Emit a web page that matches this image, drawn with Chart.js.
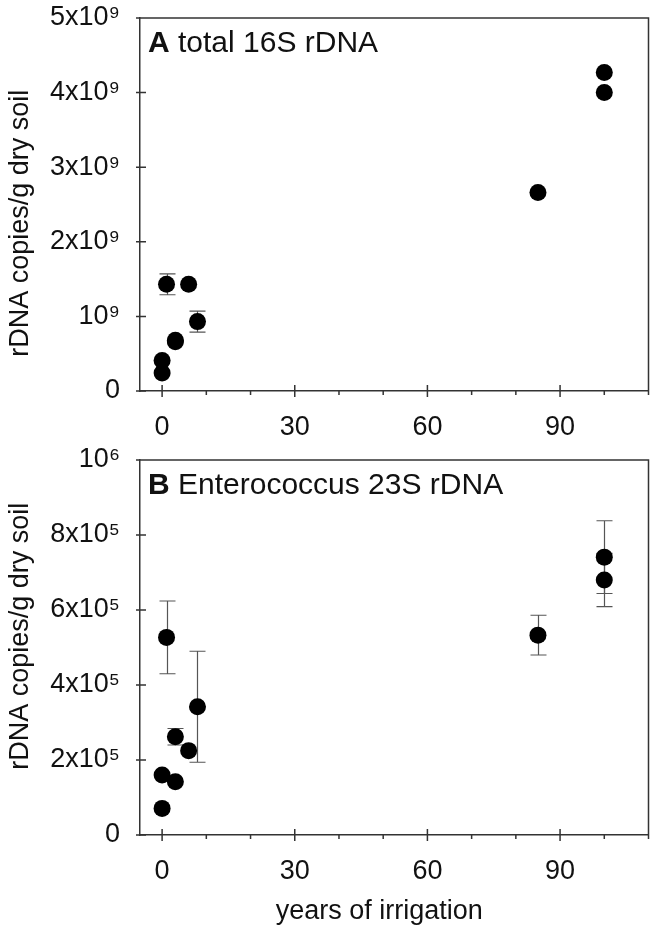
<!DOCTYPE html>
<html lang="en">
<head>
    <meta charset="UTF-8">
    <title>rDNA copies vs years of irrigation</title>
    <script src="https://cdn.jsdelivr.net/npm/chart.js"></script>
    <style>
        body {
            margin: 0;
            background-color: #fff;
        }

        #wrap {
            position: relative;
            width: 657px;
            height: 934px;
        }

        canvas {
            position: absolute;
            left: 0;
        }

        #chartA { top: 0; }
        #chartB { top: 440px; }
    </style>
</head>
<body>
    <div id="wrap">
        <canvas id="chartA" width="657" height="440"></canvas>
        <canvas id="chartB" width="657" height="494"></canvas>
    </div>

    <script>
        // years of irrigation (same sites in both panels)
        const years = [0, 0, 1, 3, 3, 6, 8, 85, 100, 100];

        // panel A: total 16S rDNA copies / g dry soil
        const total16S = [0.24e9, 0.41e9, 1.43e9, 0.66e9, 0.68e9, 1.43e9, 0.93e9, 2.66e9, 4.0e9, 4.27e9];
        const total16SErr = [0, 0, 0.14e9, 0, 0, 0, 0.14e9, 0, 0, 0];

        // panel B: Enterococcus 23S rDNA copies / g dry soil
        const entero23S = [0.71e5, 1.6e5, 5.27e5, 1.42e5, 2.62e5, 2.25e5, 3.42e5, 5.33e5, 6.8e5, 7.41e5];
        const entero23SErr = [0, 0, 0.97e5, 0, 0.22e5, 0, 1.48e5, 0.53e5, 0.71e5, 0.97e5];

        // axes
        const xTicks = [0, 10, 20, 30, 40, 50, 60, 70, 80, 90, 100, 110];
        const xMajor = [0, 30, 60, 90];
        const yTicksA = [0, 1e9, 2e9, 3e9, 4e9, 5e9];
        const yLabelsA = ['0', '10⁹', '2x10⁹', '3x10⁹', '4x10⁹', '5x10⁹'];
        const yTicksB = [0, 2e5, 4e5, 6e5, 8e5, 1e6];
        const yLabelsB = ['0', '2x10⁵', '4x10⁵', '6x10⁵', '8x10⁵', '10⁶'];

        const FONT = "'Liberation Sans', Arial, sans-serif";
        const AXIS = '#333';

        // ticks crossing the axes, top/right frame, error bars and panel label
        const panelDecor = {
            id: 'panelDecor',
            beforeDatasetsDraw(chart, args, opts) {
                const ctx = chart.ctx;
                const xs = chart.scales.x;
                const ys = chart.scales.y;
                const data = chart.data.datasets[0].data;
                ctx.save();
                ctx.strokeStyle = '#555';
                ctx.lineWidth = 1.2;
                opts.err.forEach((e, i) => {
                    if (!e) return;
                    const px = Math.round(xs.getPixelForValue(data[i].x)) + 0.5;
                    const top = ys.getPixelForValue(data[i].y + e);
                    const bot = ys.getPixelForValue(data[i].y - e);
                    ctx.beginPath();
                    ctx.moveTo(px, top); ctx.lineTo(px, bot);
                    ctx.moveTo(px - 8, top); ctx.lineTo(px + 8, top);
                    ctx.moveTo(px - 8, bot); ctx.lineTo(px + 8, bot);
                    ctx.stroke();
                });
                ctx.restore();
            },
            afterDraw(chart, args, opts) {
                const ctx = chart.ctx;
                const a = chart.chartArea;
                const xs = chart.scales.x;
                const ys = chart.scales.y;
                ctx.save();
                ctx.strokeStyle = AXIS;
                ctx.lineWidth = 1.5;
                ctx.beginPath();
                ctx.moveTo(a.left, a.top); ctx.lineTo(a.right, a.top); ctx.lineTo(a.right, a.bottom);
                ys.ticks.forEach(t => {
                    const py = ys.getPixelForValue(t.value);
                    ctx.moveTo(a.left - 4, py); ctx.lineTo(a.left + 6, py);
                });
                xs.ticks.forEach(t => {
                    const px = xs.getPixelForValue(t.value);
                    if (xMajor.includes(t.value)) {
                        ctx.moveTo(px, a.bottom - 6); ctx.lineTo(px, a.bottom + 6);
                    } else {
                        ctx.moveTo(px, a.bottom); ctx.lineTo(px, a.bottom + 4);
                    }
                });
                ctx.stroke();

                ctx.fillStyle = '#111';
                ctx.textBaseline = 'alphabetic';
                ctx.font = 'bold 30px ' + FONT;
                const lx = a.left + 8;
                const ly = a.top + 34;
                ctx.fillText(opts.letter, lx, ly);
                const w = ctx.measureText(opts.letter).width;
                ctx.font = '30px ' + FONT;
                ctx.fillText(opts.text, lx + w, ly);
                ctx.restore();
            }
        };

        function makePanel(canvasId, yVals, errs, yTicks, yLabels, yMax, letter, text, padTop, xHeight, showTitle, yTitle) {
            const ctx = document.getElementById(canvasId).getContext('2d');
            const points = years.map((x, i) => ({ x: x, y: yVals[i] }));
            return new Chart(ctx, {
                type: 'scatter',
                data: {
                    datasets: [{
                        data: points,
                        pointRadius: 8.5,
                        pointBackgroundColor: '#000',
                        pointBorderWidth: 0,
                    }]
                },
                options: {
                    responsive: false,
                    animation: false,
                    layout: { padding: { top: padTop, right: 8, left: 0, bottom: 0 } },
                    plugins: {
                        legend: { display: false },
                        tooltip: { enabled: false },
                        panelDecor: { err: errs, letter: letter, text: text }
                    },
                    scales: {
                        x: {
                            type: 'linear',
                            min: -5,
                            max: 110,
                            afterBuildTicks: s => { s.ticks = xTicks.map(v => ({ value: v })); },
                            afterFit: s => {
                                s.height = xHeight;
                                s.paddingLeft = 0;
                                s.paddingRight = 0;
                            },
                            grid: { display: false, drawTicks: false },
                            border: { display: true, color: AXIS, width: 1.5 },
                            ticks: {
                                padding: 20,
                                color: '#111',
                                font: { family: FONT, size: 27 },
                                callback: v => xMajor.includes(v) ? String(v) : ''
                            },
                            title: {
                                display: showTitle,
                                // trailing spaces nudge the title a little left, as in the original
                                text: 'years of irrigation    ',
                                color: '#111',
                                font: { family: FONT, size: 27 },
                                padding: { top: 0, bottom: 6 }
                            }
                        },
                        y: {
                            min: 0,
                            max: yMax,
                            afterBuildTicks: s => { s.ticks = yTicks.map(v => ({ value: v })); },
                            afterFit: s => {
                                s.width = 140;
                                s.paddingTop = 0;
                                s.paddingBottom = 0;
                            },
                            grid: { display: false, drawTicks: false },
                            border: { display: true, color: AXIS, width: 1.5 },
                            ticks: {
                                padding: 20,
                                color: '#111',
                                font: { family: FONT, size: 27 },
                                callback: v => yLabels[yTicks.indexOf(v)]
                            },
                            title: {
                                display: true,
                                text: yTitle,
                                color: '#111',
                                font: { family: FONT, size: 27 },
                                padding: { top: 4, bottom: 0 }
                            }
                        }
                    }
                },
                plugins: [panelDecor]
            });
        }

        makePanel('chartA', total16S, total16SErr, yTicksA, yLabelsA, 5e9, 'A', ' total 16S rDNA', 18, 49, false,
            'rDNA copies/g dry soil     ');
        makePanel('chartB', entero23S, entero23SErr, yTicksB, yLabelsB, 1e6, 'B', ' Enterococcus 23S rDNA', 20, 99, true,
            '   rDNA copies/g dry soil');
    </script>
</body>
</html>
